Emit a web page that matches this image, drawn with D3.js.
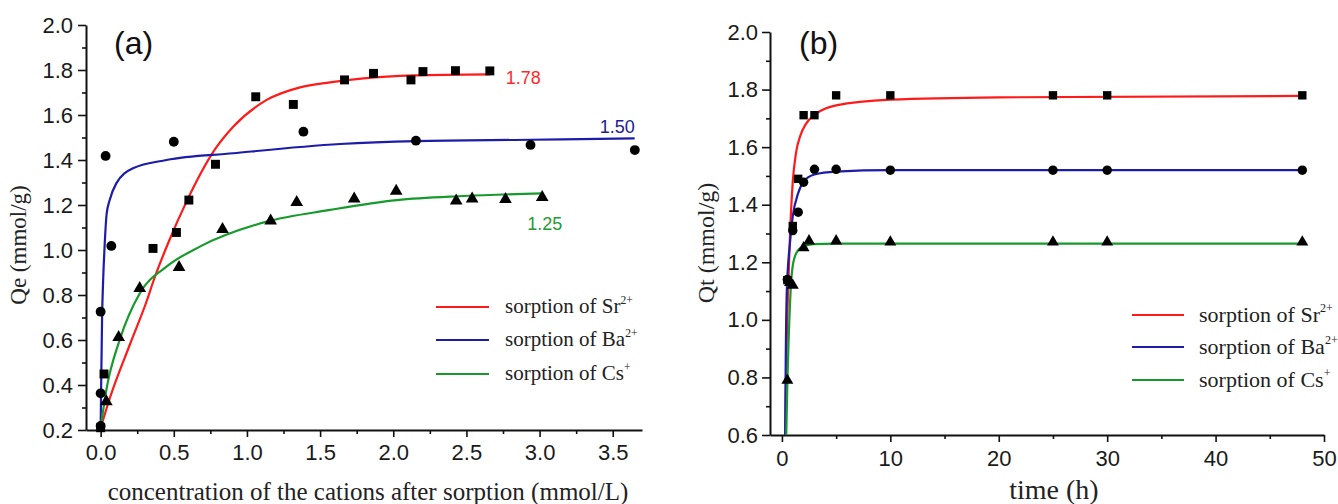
<!DOCTYPE html>
<html>
<head>
<meta charset="utf-8">
<script src="https://cdn.jsdelivr.net/npm/d3@7"></script>
<style>
  html, body { margin: 0; padding: 0; background: #fff; }
  svg { display: block; }
</style>
</head>
<body>
<svg id="chart" width="1338" height="504"></svg>
<script>
// ---------------- Panel (a) data: isotherms ----------------
const concSr = [0.0, 0.023, 0.358, 0.518, 0.603, 0.785, 1.06, 1.317, 1.667, 1.865, 2.121, 2.203, 2.425, 2.66];
const qeSr   = [0.21, 0.449, 1.007, 1.078, 1.222, 1.381, 1.681, 1.647, 1.756, 1.785, 1.756, 1.793, 1.797, 1.796];
const concBa = [0.0, 0.0, 0.0, 0.034, 0.073, 0.5, 1.386, 2.155, 2.938, 3.651];
const qeBa   = [0.218, 0.363, 0.726, 1.418, 1.018, 1.481, 1.526, 1.486, 1.467, 1.444];
const concCs = [0.039, 0.123, 0.267, 0.536, 0.833, 1.162, 1.34, 1.733, 2.02, 2.43, 2.539, 2.767, 3.018];
const qeCs   = [0.326, 0.612, 0.83, 0.923, 1.092, 1.13, 1.212, 1.227, 1.262, 1.218, 1.227, 1.225, 1.234];

// fitted curves (a)
const fitSrC  = [0.0, 0.016, 0.062, 0.2, 0.313, 0.365, 0.461, 0.587, 0.781, 0.906, 1.135, 1.363, 1.568, 1.797, 2.139, 2.66];
const fitSrQe = [0.21, 0.244, 0.34, 0.58, 0.77, 0.87, 1.03, 1.215, 1.447, 1.548, 1.667, 1.723, 1.745, 1.763, 1.776, 1.781];
const fitBaC  = [0.0, 0.004, 0.01, 0.018, 0.027, 0.041, 0.062, 0.107, 0.221, 0.45, 0.906, 1.637, 2.155, 2.938, 3.65];
const fitBaQe = [0.2, 0.42, 0.7, 0.88, 1.015, 1.16, 1.222, 1.296, 1.363, 1.40, 1.43, 1.471, 1.484, 1.49, 1.496];
const fitCsC  = [0.0, 0.039, 0.13, 0.267, 0.45, 0.678, 1.135, 1.568, 2.025, 2.482, 3.018];
const fitCsQe = [0.21, 0.378, 0.6, 0.807, 0.926, 1.015, 1.126, 1.178, 1.222, 1.24, 1.252];

const maxLabelsA = ["1.78", "1.50", "1.25"];

// ---------------- Panel (b) data: kinetics ----------------
const timeSr = [0.5, 1, 1.5, 2, 3, 5, 10, 25, 30, 48];
const qtSr   = [1.138, 1.326, 1.49, 1.711, 1.711, 1.78, 1.78, 1.78, 1.78, 1.78];
const timeBa = [0.5, 1, 1.5, 2, 3, 5, 10, 25, 30, 48];
const qtBa   = [1.14, 1.31, 1.374, 1.478, 1.523, 1.523, 1.52, 1.52, 1.52, 1.52];
const timeCs = [0.5, 0.75, 1, 2, 2.5, 5, 10, 25, 30, 48];
const qtCs   = [0.79, 1.13, 1.12, 1.25, 1.274, 1.274, 1.27, 1.27, 1.27, 1.27];

const fitSrT = [0.3, 0.4, 0.55, 0.75, 1.0, 1.3, 1.7, 2.2, 3.2, 5, 10, 20, 48];
const fitSrQ = [0.6, 0.85, 1.08, 1.30, 1.48, 1.58, 1.64, 1.68, 1.717, 1.745, 1.765, 1.773, 1.778];
const fitBaT = [0.3, 0.35, 0.45, 0.75, 1.0, 1.5, 2.0, 3.0, 5.0, 10, 20, 48];
const fitBaQ = [0.6, 0.85, 1.10, 1.27, 1.36, 1.44, 1.48, 1.505, 1.515, 1.52, 1.52, 1.52];
const fitCsT = [0.4, 0.5, 0.62, 0.8, 1.1, 1.66, 2.9, 5, 10, 48];
const fitCsQ = [0.6, 0.78, 0.93, 1.10, 1.208, 1.248, 1.263, 1.265, 1.265, 1.265];

// ---------------- ticks & legend ----------------
const xTicksA = [0, 0.5, 1.0, 1.5, 2.0, 2.5, 3.0, 3.5];
const xMinorA = [0.25, 0.75, 1.25, 1.75, 2.25, 2.75, 3.25];
const yTicksA = [0.2, 0.4, 0.6, 0.8, 1.0, 1.2, 1.4, 1.6, 1.8, 2.0];
const yMinorA = [0.3, 0.5, 0.7, 0.9, 1.1, 1.3, 1.5, 1.7, 1.9];
const xTicksB = [0, 10, 20, 30, 40, 50];
const xMinorB = [5, 15, 25, 35, 45];
const yTicksB = [0.6, 0.8, 1.0, 1.2, 1.4, 1.6, 1.8, 2.0];
const yMinorB = [0.7, 0.9, 1.1, 1.3, 1.5, 1.7, 1.9];

const legendNames = ["sorption of Sr", "sorption of Ba", "sorption of Cs"];
const legendSups  = ["2+", "2+", "+"];

const colors = { Sr: "#ff1a1a", Ba: "#1c1ca8", Cs: "#179a2c" };
const labelColors = { Sr: "#ff2a2a", Ba: "#20208f", Cs: "#1f9a35" };

// ---------------- drawing ----------------
const svg = d3.select("#chart");
const SANS = "'Liberation Sans', Arial, Helvetica, sans-serif";
const SERIF = "'Liberation Serif', 'Times New Roman', serif";
const TICK_FONT = 22;

function zip(a, b) { return a.map((v, i) => [v, b[i]]); }

function styleAxis(g, fontSize) {
  g.select(".domain").attr("stroke", "#111").attr("stroke-width", 2);
  g.selectAll(".tick line").attr("stroke", "#111").attr("stroke-width", 1.6);
  g.selectAll(".tick text").attr("fill", "#1a1a1a").attr("font-size", fontSize).attr("font-family", SANS);
}

function drawPanel(cfg) {
  const { x, y, xTicks, xMinor, yTicks, yMinor, xFmt, yFmt, xPad, yPad, id } = cfg;
  const g = svg.append("g");
  const [x0, x1] = x.range();
  const [y0, y1] = y.range();

  svg.append("clipPath").attr("id", id)
    .append("rect").attr("x", x0).attr("y", y1 - 5).attr("width", x1 - x0 + 5).attr("height", y0 - y1 + 5);

  // minor ticks
  g.append("g").attr("transform", `translate(0,${y0})`)
    .call(d3.axisBottom(x).tickValues(xMinor).tickSize(4).tickFormat(""))
    .call(a => { a.select(".domain").remove(); a.selectAll(".tick line").attr("stroke", "#111").attr("stroke-width", 1.6); });
  g.append("g").attr("transform", `translate(${x0},0)`)
    .call(d3.axisLeft(y).tickValues(yMinor).tickSize(4).tickFormat(""))
    .call(a => { a.select(".domain").remove(); a.selectAll(".tick line").attr("stroke", "#111").attr("stroke-width", 1.6); });

  // major axes
  g.append("g").attr("transform", `translate(0,${y0})`)
    .call(d3.axisBottom(x).tickValues(xTicks).tickSize(7).tickSizeOuter(0).tickPadding(xPad).tickFormat(xFmt))
    .call(a => styleAxis(a, TICK_FONT));
  g.append("g").attr("transform", `translate(${x0},0)`)
    .call(d3.axisLeft(y).tickValues(yTicks).tickSize(8).tickSizeOuter(0).tickPadding(yPad).tickFormat(yFmt))
    .call(a => styleAxis(a, TICK_FONT));

  return g;
}

function drawSeries(g, x, y, clipId, fits, points) {
  const line = d3.line().x(d => x(d[0])).y(d => y(d[1])).curve(d3.curveMonotoneX);
  const cg = g.append("g").attr("clip-path", `url(#${clipId})`);
  fits.forEach(f => {
    cg.append("path").datum(f.data).attr("d", line)
      .attr("fill", "none").attr("stroke", f.color).attr("stroke-width", 2.2);
  });
  points.forEach(p => {
    g.append("g").selectAll("path").data(p.data).join("path")
      .attr("transform", d => `translate(${x(d[0])},${y(d[1])})`)
      .attr("d", d3.symbol().type(p.type).size(p.size))
      .attr("fill", "#000");
  });
}

function drawLegend(g, xLine0, xLine1, xText, ys, fontSize) {
  const cols = [colors.Sr, colors.Ba, colors.Cs];
  legendNames.forEach((name, i) => {
    g.append("line").attr("x1", xLine0).attr("x2", xLine1).attr("y1", ys[i]).attr("y2", ys[i])
      .attr("stroke", cols[i]).attr("stroke-width", 2.2);
    const t = g.append("text").attr("x", xText).attr("y", ys[i] + fontSize * 0.3)
      .attr("font-family", SERIF).attr("font-size", fontSize).attr("fill", "#222");
    t.append("tspan").text(name);
    t.append("tspan").attr("dy", -fontSize * 0.42).attr("font-size", fontSize * 0.55).text(legendSups[i]);
  });
}

// ---- Panel (a)
const xA = d3.scaleLinear().domain([-0.1, 3.7]).range([86, 642]);
const yA = d3.scaleLinear().domain([0.2, 2.0]).range([430, 25]);
const gA = drawPanel({ x: xA, y: yA, xTicks: xTicksA, xMinor: xMinorA, yTicks: yTicksA, yMinor: yMinorA,
  xFmt: d3.format(".1f"), yFmt: d3.format(".1f"), xPad: 7, yPad: 5, id: "clipA" });

drawSeries(gA, xA, yA, "clipA",
  [ { data: zip(fitSrC, fitSrQe), color: colors.Sr },
    { data: zip(fitBaC, fitBaQe), color: colors.Ba },
    { data: zip(fitCsC, fitCsQe), color: colors.Cs } ],
  [ { data: zip(concSr, qeSr), type: d3.symbolSquare, size: 80 },
    { data: zip(concBa, qeBa), type: d3.symbolCircle, size: 76 },
    { data: zip(concCs, qeCs), type: d3.symbolTriangle, size: 70 } ]);

gA.append("text").attr("x", xA(fitSrC[fitSrC.length - 1]) + 16).attr("y", yA(1.78) + 9)
  .attr("font-family", SANS).attr("font-size", 18).attr("fill", labelColors.Sr).text(maxLabelsA[0]);
gA.append("text").attr("x", xA(fitBaC[fitBaC.length - 1])).attr("y", yA(1.50) - 5).attr("text-anchor", "end")
  .attr("font-family", SANS).attr("font-size", 18).attr("fill", labelColors.Ba).text(maxLabelsA[1]);
gA.append("text").attr("x", xA(fitCsC[fitCsC.length - 1]) - 15).attr("y", yA(1.25) + 36)
  .attr("font-family", SANS).attr("font-size", 18).attr("fill", labelColors.Cs).text(maxLabelsA[2]);

gA.append("text").attr("x", 114).attr("y", 54).attr("font-family", SANS).attr("font-size", 32).attr("fill", "#111").text("(a)");
gA.append("text").attr("transform", "translate(26,245) rotate(-90)").attr("text-anchor", "middle")
  .attr("font-family", SERIF).attr("font-size", 23).attr("fill", "#222").text("Qe (mmol/g)");
gA.append("text").attr("x", 368).attr("y", 500).attr("text-anchor", "middle")
  .attr("font-family", SERIF).attr("font-size", 25).attr("fill", "#222")
  .text("concentration of the cations after sorption (mmol/L)");
drawLegend(gA, 436, 489, 505, [307, 340, 374], 21);

// ---- Panel (b)
const xB = d3.scaleLinear().domain([-1.1, 50]).range([770, 1324]);
const yB = d3.scaleLinear().domain([0.6, 2.0]).range([435, 32]);
const gB = drawPanel({ x: xB, y: yB, xTicks: xTicksB, xMinor: xMinorB, yTicks: yTicksB, yMinor: yMinorB,
  xFmt: d3.format("d"), yFmt: d3.format(".1f"), xPad: 8, yPad: 4, id: "clipB" });

drawSeries(gB, xB, yB, "clipB",
  [ { data: zip(fitSrT, fitSrQ), color: colors.Sr },
    { data: zip(fitBaT, fitBaQ), color: colors.Ba },
    { data: zip(fitCsT, fitCsQ), color: colors.Cs } ],
  [ { data: zip(timeSr, qtSr), type: d3.symbolSquare, size: 70 },
    { data: zip(timeBa, qtBa), type: d3.symbolCircle, size: 70 },
    { data: zip(timeCs, qtCs), type: d3.symbolTriangle, size: 62 } ]);

gB.append("text").attr("x", 799).attr("y", 54).attr("font-family", SANS).attr("font-size", 32).attr("fill", "#111").text("(b)");
gB.append("text").attr("transform", "translate(714,243) rotate(-90)").attr("text-anchor", "middle")
  .attr("font-family", SERIF).attr("font-size", 24).attr("fill", "#222").text("Qt (mmol/g)");
gB.append("text").attr("x", 1054).attr("y", 499).attr("text-anchor", "middle")
  .attr("font-family", SERIF).attr("font-size", 28).attr("fill", "#222").text("time (h)");
drawLegend(gB, 1132, 1184, 1199, [315, 347, 380], 22);
</script>
</body>
</html>
